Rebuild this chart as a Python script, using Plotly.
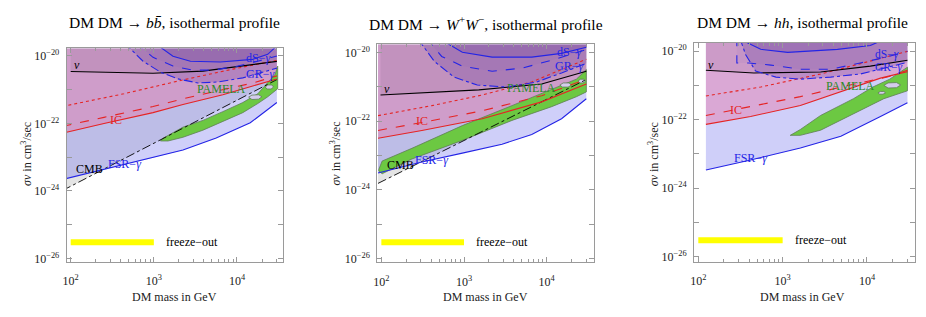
import plotly.graph_objects as go

# ---------------- data (log10 of DM mass in GeV, log10 of sigma v in cm^3/s) -------------
TOP = -19.0

# Panel 1: DM DM -> b bbar
b_fsr_m = [1.90, 1.95, 2.40, 2.99, 3.35, 3.75, 4.16, 4.48]
b_fsr_s = [-23.66, -23.63, -23.37, -23.02, -22.79, -22.43, -21.98, -21.38]
b_cmb_m = [1.90, 4.48]
b_cmb_s = [-23.99, -20.70]
b_ic_m = [1.90, 1.95, 2.40, 2.99, 3.35, 3.83, 4.19, 4.48]
b_ic_s = [-22.28, -22.26, -22.00, -21.68, -21.44, -21.15, -20.89, -20.68]
b_icd_s = [-22.08, -22.06, -21.82, -21.50, -21.27, -21.00, -20.80, -20.59]
b_ico_m = [1.90, 1.95, 2.64, 3.35, 3.95, 4.48]
b_ico_s = [-21.49, -21.47, -21.12, -20.71, -20.39, -20.13]
b_nu_m = [2.00, 2.99, 3.59, 4.07, 4.48]
b_nu_s = [-20.46, -20.51, -20.45, -20.30, -20.16]
b_gr_m = [2.64, 2.87, 3.08, 3.29, 3.53, 3.77, 4.07, 4.31, 4.48]
b_gr_s = [-19.60, -20.155, -20.48, -20.68, -20.80, -20.77, -20.65, -20.48, -20.36]
b_ds_m = [2.78, 2.99, 3.23, 3.47, 3.71, 4.01, 4.25, 4.48]
b_ds_s = [-19.60, -20.04, -20.30, -20.42, -20.42, -20.30, -20.155, -20.00]
b_top_m = [3.00, 3.23, 3.44, 3.80, 4.19, 4.37, 4.48]
b_top_s = [-19.60, -20.01, -20.155, -20.18, -20.10, -19.95, -19.70]
b_pam_m = [3.08, 3.11, 3.35, 3.59, 3.83, 4.07, 4.25, 4.37, 4.46, 4.49,
           4.49, 4.37, 4.25, 4.07, 3.83, 3.59, 3.35, 3.17]
b_pam_s = [-22.52, -22.44, -22.11, -21.91, -21.65, -21.38, -21.12, -20.80, -20.54, -20.30,
           -20.97, -21.21, -21.41, -21.68, -21.94, -22.20, -22.41, -22.52]
b_holes = [([4.14, 4.18, 4.26, 4.30, 4.26, 4.18], [-21.22, -21.16, -21.15, -21.21, -21.28, -21.29]),
           ([4.34, 4.37, 4.42, 4.44, 4.41, 4.36], [-20.92, -20.86, -20.86, -20.92, -20.98, -20.98])]

# Panel 2: DM DM -> W+ W-
w_fsr_m = [1.96, 2.49, 2.98, 3.46, 3.82, 4.18, 4.48]
w_fsr_s = [-23.51, -23.19, -22.93, -22.67, -22.39, -21.93, -21.35]
w_cmb_m = [1.96, 4.48]
w_cmb_s = [-23.81, -20.79]
w_ic_m = [1.96, 2.49, 3.22, 3.94, 4.48]
w_ic_s = [-22.50, -22.27, -21.93, -21.44, -20.92]
w_icd_s = [-22.27, -22.04, -21.70, -21.26, -20.78]
w_ico_m = [1.96, 2.61, 3.22, 3.82, 4.48]
w_ico_s = [-21.84, -21.55, -21.24, -20.86, -20.20]
w_nu_m = [1.99, 3.18, 3.94, 4.48]
w_nu_s = [-21.24, -21.09, -20.92, -20.55]
w_gr_m = [2.44, 2.64, 2.88, 3.16, 3.52, 3.88, 4.18, 4.48]
w_gr_s = [-19.60, -20.26, -20.72, -20.95, -21.01, -20.86, -20.60, -20.32]
w_ds_m = [2.55, 2.73, 2.98, 3.34, 3.70, 4.06, 4.48]
w_ds_s = [-19.60, -20.12, -20.40, -20.55, -20.46, -20.23, -19.92]
w_top_m = [2.70, 2.98, 3.34, 3.82, 4.18, 4.48]
w_top_s = [-19.60, -20.00, -20.14, -20.14, -20.03, -19.85]
w_pam_m = [1.97, 2.01, 2.37, 2.98, 3.58, 4.06, 4.36, 4.48,
           4.48, 4.36, 4.06, 3.58, 2.98, 2.37, 2.01, 1.97]
w_pam_s = [-23.40, -23.16, -22.79, -22.13, -21.55, -21.09, -20.78, -20.50,
           -21.15, -21.29, -21.58, -21.98, -22.56, -23.10, -23.53, -23.45]
w_holes = [([4.16, 4.20, 4.27, 4.30, 4.26, 4.19], [-20.95, -20.89, -20.89, -20.95, -21.01, -21.01]),
           ([4.38, 4.41, 4.45, 4.47, 4.44, 4.40], [-20.83, -20.78, -20.78, -20.84, -20.89, -20.89])]

# Panel 3: DM DM -> h h
h_fsr_m = [2.09, 2.62, 3.21, 3.69, 4.16, 4.48]
h_fsr_s = [-23.47, -23.18, -22.83, -22.49, -21.91, -21.51]
h_ic_m = [2.09, 2.62, 3.21, 3.57, 3.92, 4.16, 4.48]
h_ic_s = [-22.14, -21.91, -21.59, -21.28, -20.99, -20.79, -20.60]
h_icd_m = [2.09, 2.66, 3.21, 3.80, 4.24, 4.48]
h_icd_s = [-21.88, -21.59, -21.33, -20.99, -20.76, -20.56]
h_ico_m = [2.09, 2.74, 3.45, 4.04, 4.48]
h_ico_s = [-21.31, -21.05, -20.67, -20.30, -20.01]
h_nu_m = [2.09, 2.66, 3.45, 4.04, 4.48]
h_nu_s = [-20.56, -20.64, -20.61, -20.44, -20.27]
h_gr_m = [2.49, 2.56, 2.68, 2.92, 3.21, 3.57, 3.92, 4.22, 4.48]
h_gr_s = [-19.60, -20.10, -20.585, -20.76, -20.82, -20.76, -20.67, -20.50, -20.33]
h_ds_m = [2.457, 2.457, 2.60, 2.86, 3.21, 3.57, 3.92, 4.22, 4.48]
h_ds_s = [-19.60, -20.35, -20.35, -20.41, -20.53, -20.53, -20.35, -20.18, -20.01]
h_top_m = [2.45, 2.74, 3.06, 3.65, 4.04, 4.26]
h_top_s = [-19.60, -19.95, -20.04, -19.95, -19.84, -19.60]
h_pam_m = [3.09, 3.21, 3.45, 3.84, 4.07, 4.27, 4.48, 4.48, 4.20, 3.84, 3.45, 3.21]
h_pam_s = [-22.46, -22.29, -21.88, -21.39, -21.05, -20.82, -20.47,
           -21.16, -21.39, -21.82, -22.31, -22.46]
h_holes = [([4.20, 4.25, 4.35, 4.40, 4.35, 4.25], [-21.00, -20.93, -20.92, -20.99, -21.07, -21.08]),
           ([4.13, 4.16, 4.20, 4.22, 4.19, 4.15], [-21.22, -21.18, -21.18, -21.22, -21.26, -21.26])]

# freeze-out band
fo_m = [100, 1000]
fo_sv = [3e-26, 3e-26]

# tick labels
x_ticks = [100, 1000, 10000]
x_ticktext = ["10<sup>2</sup>", "10<sup>3</sup>", "10<sup>4</sup>"]
y_ticks = [1e-26, 1e-25, 1e-24, 1e-23, 1e-22, 1e-21, 1e-20]
y_ticktext = ["10<sup>−26</sup>", " ", "10<sup>−24</sup>", " ", "10<sup>−22</sup>", " ", "10<sup>−20</sup>"]
x_minor = [k * 10 ** e for e in (1, 2, 3, 4) for k in range(2, 10) if k * 10 ** e <= 40000]

titles = ["DM DM → <i>b</i><i>b̄</i>, isothermal profile",
          "DM DM → <i>W</i><sup>+</sup><i>W</i><sup>−</sup>, isothermal profile",
          "DM DM → <i>hh</i>, isothermal profile"]

# ---------------- styling -------------
FONT = "Liberation Serif"
BLUE = "#2424e6"
RED = "#e52424"
C_CMB = "rgba(120,120,120,0.20)"
C_FSR = "rgba(118,118,238,0.35)"
C_IC = "rgba(235,110,160,0.40)"
C_NU = "rgba(90,50,90,0.10)"
C_GR = "rgba(100,60,160,0.25)"
C_DS = "rgba(90,60,170,0.06)"
C_TOP = "rgba(80,40,140,0.15)"
C_PAM = "rgb(108,200,66)"
C_HOLE = "rgb(212,204,236)"

def L(v):
    return [10 ** a for a in v]

fig = go.Figure()

def region(m, s, color, k):
    xs = [m[0]] + list(m) + [m[-1]]
    ys = [TOP] + list(s) + [TOP]
    fig.add_trace(go.Scatter(x=L(xs), y=L(ys), mode="lines", fill="toself",
                             fillcolor=color, line=dict(width=0),
                             xaxis="x" + k, yaxis="y" + k, hoverinfo="skip"))

def line(m, s, color, dash, k, width=1.1):
    fig.add_trace(go.Scatter(x=L(m), y=L(s), mode="lines",
                             line=dict(color=color, width=width, dash=dash),
                             xaxis="x" + k, yaxis="y" + k, hoverinfo="skip"))

def blob(m, s, k, color):
    fig.add_trace(go.Scatter(x=L(list(m) + [m[0]]), y=L(list(s) + [s[0]]), mode="lines",
                             fill="toself", fillcolor=color,
                             line=dict(color="rgb(95,125,85)", width=0.8),
                             xaxis="x" + k, yaxis="y" + k, hoverinfo="skip"))

panels = [
    dict(k="", fsr=(b_fsr_m, b_fsr_s), cmb=(b_cmb_m, b_cmb_s), ic=(b_ic_m, b_ic_s),
         icd=(b_ic_m, b_icd_s), ico=(b_ico_m, b_ico_s), nu=(b_nu_m, b_nu_s),
         gr=(b_gr_m, b_gr_s), ds=(b_ds_m, b_ds_s), top=(b_top_m, b_top_s),
         pam=(b_pam_m, b_pam_s), holes=b_holes),
    dict(k="2", fsr=(w_fsr_m, w_fsr_s), cmb=(w_cmb_m, w_cmb_s), ic=(w_ic_m, w_ic_s),
         icd=(w_ic_m, w_icd_s), ico=(w_ico_m, w_ico_s), nu=(w_nu_m, w_nu_s),
         gr=(w_gr_m, w_gr_s), ds=(w_ds_m, w_ds_s), top=(w_top_m, w_top_s),
         pam=(w_pam_m, w_pam_s), holes=w_holes),
    dict(k="3", fsr=(h_fsr_m, h_fsr_s), cmb=None, ic=(h_ic_m, h_ic_s),
         icd=(h_icd_m, h_icd_s), ico=(h_ico_m, h_ico_s), nu=(h_nu_m, h_nu_s),
         gr=(h_gr_m, h_gr_s), ds=(h_ds_m, h_ds_s), top=(h_top_m, h_top_s),
         pam=(h_pam_m, h_pam_s), holes=h_holes),
]

for p in panels:
    k = p["k"]
    if p["cmb"]:
        region(*p["cmb"], C_CMB, k)
    region(*p["fsr"], C_FSR, k)
    region(*p["ic"], C_IC, k)
    region(*p["nu"], C_NU, k)
    region(*p["gr"], C_GR, k)
    region(*p["ds"], C_DS, k)
    region(*p["top"], C_TOP, k)
    blob(*p["pam"], k, C_PAM)
    for hm, hs in p["holes"]:
        blob(hm, hs, k, C_HOLE)
    if p["cmb"]:
        line(*p["cmb"], "black", "dashdot", k, 0.9)
    line(*p["fsr"], BLUE, "solid", k)
    line(*p["ic"], RED, "solid", k)
    line(*p["icd"], RED, "dash", k)
    line(*p["ico"], RED, "dot", k)
    line(*p["nu"], "black", "solid", k)
    line(*p["gr"], BLUE, "dashdot", k)
    line(*p["ds"], BLUE, "dash", k)
    line(*p["top"], BLUE, "solid", k)
    fig.add_trace(go.Scatter(x=fo_m, y=fo_sv, mode="lines", line=dict(color="#ffff00", width=6),
                             xaxis="x" + k, yaxis="y" + k, hoverinfo="skip"))

# ---------------- axes -------------
W, H = 926, 317
xdom_px = [(63, 280), (375, 593), (693, 915)]
ydom_px = [(49, 265), (45, 265.5), (43.3, 265)]
xranges = [[1.952, 4.551], [1.952, 4.578], [1.949, 4.570]]
yranges = [[-26.097, -19.775], [-26.10, -19.77], [-26.147, -19.758]]

layout = dict(width=W, height=H, margin=dict(l=0, r=0, t=0, b=0),
              paper_bgcolor="white", plot_bgcolor="white", showlegend=False)
axcol = "#9a9a9a"
for i in range(3):
    k = "" if i == 0 else str(i + 1)
    layout["xaxis" + k] = dict(
        type="log", range=xranges[i], domain=[xdom_px[i][0] / W, xdom_px[i][1] / W],
        anchor="y" + k, showline=True, linecolor=axcol, linewidth=1, mirror="ticks",
        ticks="inside", ticklen=5, tickcolor=axcol, tickvals=x_ticks, ticktext=x_ticktext,
        ticklabelstandoff=8,
        tickfont=dict(family=FONT, size=12, color="#222"), showgrid=False, zeroline=False,
        minor=dict(tickvals=x_minor, ticks="inside", ticklen=3, tickcolor=axcol, showgrid=False))
    layout["yaxis" + k] = dict(
        type="log", range=yranges[i], domain=[1 - ydom_px[i][1] / H, 1 - ydom_px[i][0] / H],
        anchor="x" + k, showline=True, linecolor=axcol, linewidth=1, mirror="ticks",
        ticks="inside", ticklen=5, tickcolor=axcol, tickvals=y_ticks, ticktext=y_ticktext,
        ticklabelstandoff=4,
        tickfont=dict(family=FONT, size=12, color="#222"), showgrid=False, zeroline=False)
fig.update_layout(**layout)

# ---------------- text -------------
ann = []
title_x = [171, 484, 802]
ylab_x = [22, 332, 652]
for i in range(3):
    ann.append(dict(text=titles[i], x=title_x[i] / W, y=1 - 23 / H, xref="paper", yref="paper",
                    showarrow=False, font=dict(family=FONT, size=15.5, color="black"),
                    xanchor="center", yanchor="middle"))
    ann.append(dict(text="DM mass in GeV", x=title_x[i] / W, y=1 - 301 / H, xref="paper", yref="paper",
                    showarrow=False, font=dict(family=FONT, size=12, color="#222"),
                    xanchor="center", yanchor="middle"))
    ann.append(dict(text="<i>σv</i> in cm<sup>3</sup>/sec", x=ylab_x[i] / W, y=1 - 156 / H,
                    xref="paper", yref="paper", textangle=-90, showarrow=False,
                    font=dict(family=FONT, size=12, color="#222"), xanchor="center", yanchor="middle"))

# in-plot labels: (panel, text, log10 m, log10 sv, color, size)
labels = [
    ("", "<i>ν</i>", 2.07, -20.27, "black", 12), ("", "dS−<i>γ</i>", 4.25, -20.07, BLUE, 12),
    ("", "GR−<i>γ</i>", 4.28, -20.53, BLUE, 12), ("", "PAMELA", 3.81, -20.97, "#2a8a2a", 12),
    ("", "IC", 2.54, -21.91, RED, 12), ("", "CMB", 2.23, -23.34, "black", 12),
    ("", "FSR−<i>γ</i>", 2.65, -23.20, BLUE, 12),
    ("2", "<i>ν</i>", 2.07, -21.08, "black", 12), ("2", "dS−<i>γ</i>", 4.27, -20.00, BLUE, 12),
    ("2", "GR−<i>γ</i>", 4.27, -20.40, BLUE, 12), ("2", "PAMELA", 3.82, -21.03, "#2a8a2a", 12),
    ("2", "IC", 2.49, -22.01, RED, 12), ("2", "CMB", 2.23, -23.28, "black", 12),
    ("2", "FSR−<i>γ</i>", 2.61, -23.13, BLUE, 12),
    ("3", "<i>ν</i>", 2.15, -20.41, "black", 12), ("3", "dS−<i>γ</i>", 4.24, -20.11, BLUE, 11.5),
    ("3", "GR−<i>γ</i>", 4.25, -20.47, BLUE, 11.5), ("3", "PAMELA", 3.80, -21.02, "#2a8a2a", 12),
    ("3", "IC", 2.445, -21.73, RED, 12), ("3", "FSR−<i>γ</i>", 2.62, -23.12, BLUE, 12),
]
for k, t, xm, ys, c, fs in labels:
    ann.append(dict(text=t, x=xm, y=ys, xref="x" + k, yref="y" + k, showarrow=False,
                    font=dict(family=FONT, size=fs, color=c), xanchor="center", yanchor="middle"))
for k in ["", "2", "3"]:
    ann.append(dict(text="freeze−out", x=3.12, y=-25.52, xref="x" + k, yref="y" + k, showarrow=False,
                    font=dict(family=FONT, size=12, color="black"), xanchor="left", yanchor="middle"))

fig.update_layout(annotations=ann)
fig.write_html("out.html", config={"displayModeBar": False},
               post_script="document.body.style.margin='0';document.body.style.padding='0';")
